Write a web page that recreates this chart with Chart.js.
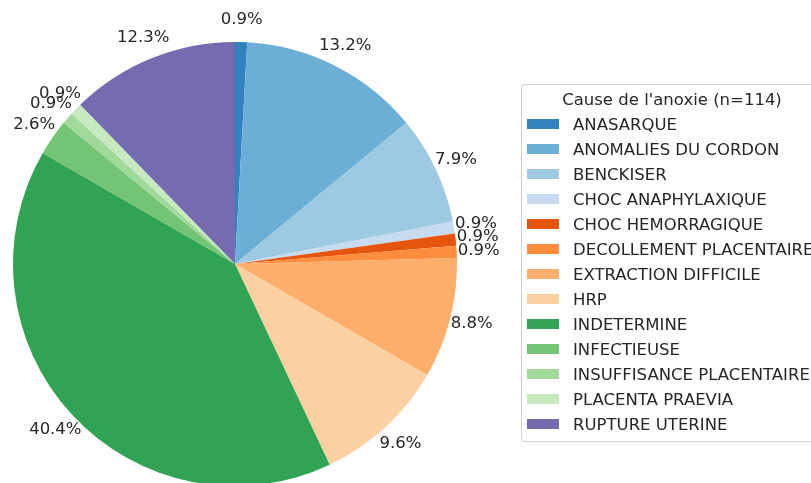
<!DOCTYPE html>
<html>
<head>
<meta charset="utf-8">
<script src="https://cdn.jsdelivr.net/npm/chart.js@4/dist/chart.umd.min.js"></script>
<style>
  html, body { margin: 0; padding: 0; background: #fff; overflow: hidden; }
  #wrap { position: relative; width: 811px; height: 490px; }
  #legend {
    position: absolute; left: 521px; top: 84px; width: 340px; height: 358px;
    border: 1px solid #d0d0d0; border-radius: 4px; background: #fff;
    font-family: "DejaVu Sans", sans-serif; font-size: 16.5px; color: #262626;
    box-sizing: border-box;
  }
  #legend .title { position: absolute; left: 0; width: 300px; top: 5px; text-align: center; white-space: nowrap; }
  #legend .item { position: absolute; left: 5px; height: 22px; line-height: 22px; white-space: nowrap; }
  #legend .sw { display: inline-block; width: 32px; height: 10px; vertical-align: middle; margin-right: 14px; margin-top: -3px; }
</style>
</head>
<body>
<div id="wrap">
  <canvas id="pieChart" width="811" height="490"></canvas>
  <div id="legend"></div>
</div>
<script>
const legendTitle = "Cause de l'anoxie (n=114)";
const causes = [
  "ANASARQUE", "ANOMALIES DU CORDON", "BENCKISER", "CHOC ANAPHYLAXIQUE",
  "CHOC HEMORRAGIQUE", "DECOLLEMENT PLACENTAIRE", "EXTRACTION DIFFICILE", "HRP",
  "INDETERMINE", "INFECTIEUSE", "INSUFFISANCE PLACENTAIRE", "PLACENTA PRAEVIA",
  "RUPTURE UTERINE"
];
const counts = [1, 15, 9, 1, 1, 1, 10, 11, 46, 3, 1, 1, 14];
const colors = [
  "#3182bd", "#6baed6", "#9ecae1", "#c6dbef",
  "#e6550d", "#fd8d3c", "#fdae6b", "#fdd0a2",
  "#31a354", "#74c476", "#a1d99b", "#c7e9c0",
  "#756bb1"
];

// étiquettes de pourcentage à l'extérieur des parts
const pctLabels = {
  id: "pctLabels",
  afterDatasetsDraw(chart) {
    const ctx = chart.ctx;
    const total = counts.reduce((a, b) => a + b, 0);
    const meta = chart.getDatasetMeta(0);
    ctx.save();
    ctx.font = "16.5px 'DejaVu Sans', sans-serif";
    ctx.fillStyle = "#262626";
    ctx.textAlign = "center";
    ctx.textBaseline = "middle";
    meta.data.forEach((arc, i) => {
      const p = arc.getProps(["x", "y", "startAngle", "endAngle", "outerRadius"], true);
      const mid = (p.startAngle + p.endAngle) / 2;
      const r = p.outerRadius * 1.1;
      const txt = (counts[i] / total * 100).toFixed(1) + "%";
      ctx.fillText(txt, p.x + Math.cos(mid) * r, p.y + Math.sin(mid) * r);
    });
    ctx.restore();
  }
};

new Chart(document.getElementById("pieChart"), {
  type: "pie",
  data: {
    labels: causes,
    datasets: [{
      data: counts,
      backgroundColor: colors,
      borderWidth: 0
    }]
  },
  options: {
    responsive: false,
    animation: false,
    layout: { padding: { left: 13, right: 354, top: 42, bottom: 4 } },
    plugins: {
      legend: { display: false },
      tooltip: { enabled: false }
    }
  },
  plugins: [pctLabels]
});

// légende HTML
const legend = document.getElementById("legend");
const t = document.createElement("div");
t.className = "title";
t.textContent = legendTitle;
legend.appendChild(t);
causes.forEach((name, i) => {
  const row = document.createElement("div");
  row.className = "item";
  row.style.top = (29 + i * 25) + "px";
  const sw = document.createElement("span");
  sw.className = "sw";
  sw.style.background = colors[i];
  row.appendChild(sw);
  row.appendChild(document.createTextNode(name));
  legend.appendChild(row);
});
</script>
</body>
</html>
